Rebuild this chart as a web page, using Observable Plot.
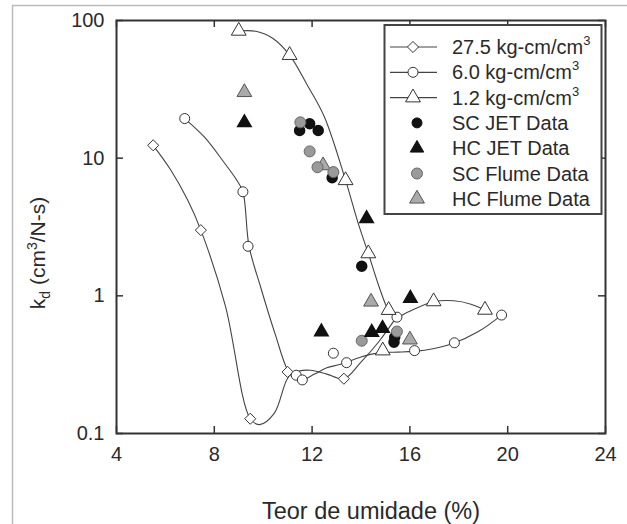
<!DOCTYPE html>
<html><head><meta charset="utf-8">
<script src="https://cdn.jsdelivr.net/npm/d3@7"></script>
<script src="https://cdn.jsdelivr.net/npm/@observablehq/plot@0.6"></script>
<style>
body{margin:0;background:#fff;}
#chart{position:relative;width:627px;height:524px;overflow:hidden;}
</style></head><body><div id="chart"></div>
<script>
// ---- tick labels ----
const xTicks = [4, 8, 12, 16, 20, 24];
const yTicks = [0.1, 1, 10, 100];

// ---- model curves (traced) ----
const c275X = [5.5, 6.2, 6.9, 7.45, 8.45, 9.47, 9.85, 10.45, 11.05, 11.5, 11.93, 12.6, 13.3, 14.0, 14.75, 15.45];
const c275Y = [12.4, 8.3, 5.0, 3.0, 0.85, 0.128, 0.116, 0.14, 0.26, 0.285, 0.288, 0.27, 0.25, 0.33, 0.47, 0.70];
const c60X = [6.79, 7.6, 8.4, 8.9, 9.17, 9.42, 9.9, 10.5, 11.0, 11.3, 11.6, 12.1, 12.6, 13.16, 14.0, 14.8, 15.5, 16.15, 17.0, 17.75, 18.8, 19.75];
const c60Y = [19.4, 14.2, 9.3, 7.0, 5.7, 2.3, 1.15, 0.52, 0.29, 0.255, 0.245, 0.27, 0.3, 0.318, 0.36, 0.387, 0.39, 0.395, 0.415, 0.45, 0.55, 0.725];
const c12X = [9.0, 9.7, 10.4, 11.08, 11.8, 12.5, 13.37, 13.9, 14.3, 14.75, 15.13, 15.45, 15.9, 16.97, 17.8, 18.5, 19.07];
const c12Y = [84, 83.5, 74, 56, 34, 20, 6.9, 3.3, 2.03, 1.15, 0.787, 0.70, 0.76, 0.905, 0.92, 0.87, 0.79];

// ---- model points ----
const m275X = [5.5, 7.45, 9.47, 11.0, 13.3];
const m275Y = [12.4, 3.0, 0.128, 0.28, 0.25];
const m60X = [6.79, 9.17, 9.38, 11.35, 11.6, 12.87, 13.41, 15.47, 16.19, 17.82, 19.75];
const m60Y = [19.4, 5.7, 2.29, 0.265, 0.245, 0.383, 0.327, 0.70, 0.40, 0.456, 0.725];
const m12X = [9.0, 11.08, 13.37, 14.3, 15.13, 16.97, 19.07, 14.89];
const m12Y = [84, 56, 6.9, 2.03, 0.787, 0.91, 0.79, 0.40];

// ---- measured data ----
const scJetX = [11.49, 11.9, 12.25, 12.82, 14.03, 15.38, 15.35];
const scJetY = [15.9, 17.8, 15.9, 7.21, 1.64, 0.50, 0.46];
const hcJetX = [9.23, 14.23, 12.38, 14.44, 14.88, 16.02];
const hcJetY = [18.1, 3.64, 0.548, 0.543, 0.58, 0.958];
const scFlumeX = [11.52, 11.9, 12.22, 12.87, 14.03, 15.47];
const scFlumeY = [18.2, 11.2, 8.6, 7.92, 0.472, 0.55];
const hcFlumeX = [9.23, 12.45, 14.41, 16.0];
const hcFlumeY = [30.1, 8.85, 0.905, 0.48];

const legendLabels = ["27.5 kg-cm/cm", "6.0 kg-cm/cm", "1.2 kg-cm/cm", "SC JET Data", "HC JET Data", "SC Flume Data", "HC Flume Data"];

const zip = (X, Y) => X.map((x, i) => ({x, y: Y[i]}));

const W = 627, H = 524, mL = 116, mR = 22, mT = 20, mB = 91;
const fw = W - mL - mR, fh = H - mT - mB;
const ink = "#2a2a2a";

const openStyle = {x: "x", y: "y", fill: "white", stroke: "#333", strokeWidth: 1};

const plot = Plot.plot({
  width: W, height: H,
  marginLeft: mL, marginRight: mR, marginTop: mT, marginBottom: mB,
  style: {fontFamily: "'Liberation Sans', Arial, sans-serif", background: "white", color: ink},
  x: {domain: [4, 24]},
  y: {type: "log", domain: [0.1, 100]},
  marks: [
    Plot.line(zip(c275X, c275Y), {x: "x", y: "y", curve: "catmull-rom", stroke: "#444", strokeWidth: 1.1}),
    Plot.line(zip(c60X, c60Y), {x: "x", y: "y", curve: "catmull-rom", stroke: "#444", strokeWidth: 1.1}),
    Plot.line(zip(c12X, c12Y), {x: "x", y: "y", curve: "catmull-rom", stroke: "#444", strokeWidth: 1.1}),
    Plot.dot(zip(m275X, m275Y), {...openStyle, symbol: "diamond2", r: 5}),
    Plot.dot(zip(m60X, m60Y), {...openStyle, symbol: "circle", r: 5}),
    Plot.dot(zip(m12X, m12Y), {...openStyle, symbol: "triangle", r: 5.5}),
    Plot.dot(zip(hcFlumeX, hcFlumeY), {x: "x", y: "y", symbol: "triangle", r: 5.5, fill: "#aaa", stroke: "#555", strokeWidth: 1}),
    Plot.dot(zip(scJetX, scJetY), {x: "x", y: "y", symbol: "circle", r: 5, fill: "#111", stroke: "#111"}),
    Plot.dot(zip(scFlumeX, scFlumeY), {x: "x", y: "y", symbol: "circle", r: 5.5, fill: "#9a9a9a", stroke: "#666", strokeWidth: 1}),
    Plot.dot(zip(hcJetX, hcJetY), {x: "x", y: "y", symbol: "triangle", r: 5, fill: "#111", stroke: "#111"}),
    // inward ticks on all four sides
    Plot.tickX(xTicks, {x: d => d, insetTop: fh - 7, stroke: "#333", strokeWidth: 1.5}),
    Plot.tickX(xTicks, {x: d => d, insetBottom: fh - 7, stroke: "#333", strokeWidth: 1.5}),
    Plot.tickY(yTicks, {y: d => d, insetRight: fw - 7, stroke: "#333", strokeWidth: 1.5}),
    Plot.tickY(yTicks, {y: d => d, insetLeft: fw - 7, stroke: "#333", strokeWidth: 1.5}),
    Plot.frame({stroke: "#333", strokeWidth: 2}),
    Plot.axisX(xTicks, {tickSize: 0, tickPadding: 13, fontSize: 20, label: null, fill: ink}),
    Plot.axisY(yTicks, {tickSize: 0, tickPadding: 12, fontSize: 20, label: null, tickFormat: d => String(d), fill: ink})
  ]
});

document.getElementById("chart").appendChild(plot);
const svg = d3.select(plot);

// outer image border (top + left)
svg.append("line").attr("x1", 12).attr("x2", W).attr("y1", 5.5).attr("y2", 5.5).attr("stroke", "#bbb").attr("stroke-width", 1.5);
svg.append("line").attr("x1", 12.5).attr("x2", 12.5).attr("y1", 5).attr("y2", H).attr("stroke", "#bbb").attr("stroke-width", 1.5);

// x title
svg.append("text").attr("x", 371).attr("y", 519).attr("text-anchor", "middle")
  .attr("fill", ink).style("font-size", "23.5px").text("Teor de umidade (%)");

// y title with sub/superscript
const yt = svg.append("text").attr("transform", "translate(45,253) rotate(-90)")
  .attr("text-anchor", "middle").attr("fill", ink).style("font-size", "21px");
yt.append("tspan").text("k");
yt.append("tspan").attr("dy", 5).style("font-size", "14px").text("d");
yt.append("tspan").attr("dy", -5).text(" (cm");
yt.append("tspan").attr("dy", -8).style("font-size", "14px").text("3");
yt.append("tspan").attr("dy", 8).text("/N-s)");

// legend
const lg = svg.append("g").attr("text-anchor", "start");
lg.append("rect").attr("x", 384.5).attr("y", 25).attr("width", 217).attr("height", 189)
  .attr("fill", "white").attr("stroke", "#444").attr("stroke-width", 2);
const sym = (type, r) => d3.symbol().type(type).size(Math.PI * r * r)();
const legendSpec = [
  {line: true, type: d3.symbolDiamond2, r: 5, fill: "white", stroke: "#333"},
  {line: true, type: d3.symbolCircle, r: 5, fill: "white", stroke: "#333"},
  {line: true, type: d3.symbolTriangle, r: 5.5, fill: "white", stroke: "#333"},
  {line: false, type: d3.symbolCircle, r: 5, fill: "#111", stroke: "#111"},
  {line: false, type: d3.symbolTriangle, r: 5, fill: "#111", stroke: "#111"},
  {line: false, type: d3.symbolCircle, r: 5.5, fill: "#9a9a9a", stroke: "#666"},
  {line: false, type: d3.symbolTriangle, r: 5.5, fill: "#aaa", stroke: "#555"}
];
legendLabels.forEach((lab, i) => {
  const cy = 47 + i * 25.3;
  const s = legendSpec[i];
  const mx = s.line ? 413 : 417;
  if (s.line) lg.append("line").attr("x1", 390).attr("x2", 437).attr("y1", cy).attr("y2", cy).attr("stroke", "#444").attr("stroke-width", 1.2);
  lg.append("path").attr("d", sym(s.type, s.r)).attr("transform", `translate(${mx},${cy})`)
    .attr("fill", s.fill).attr("stroke", s.stroke).attr("stroke-width", 1);
  const t = lg.append("text").attr("x", 452).attr("y", cy + 7).attr("text-anchor", "start")
    .attr("fill", ink).style("font-size", "20px").text(lab);
  if (i < 3) t.append("tspan").attr("dy", -9).style("font-size", "13px").text("3");
});
</script>
</body></html>
